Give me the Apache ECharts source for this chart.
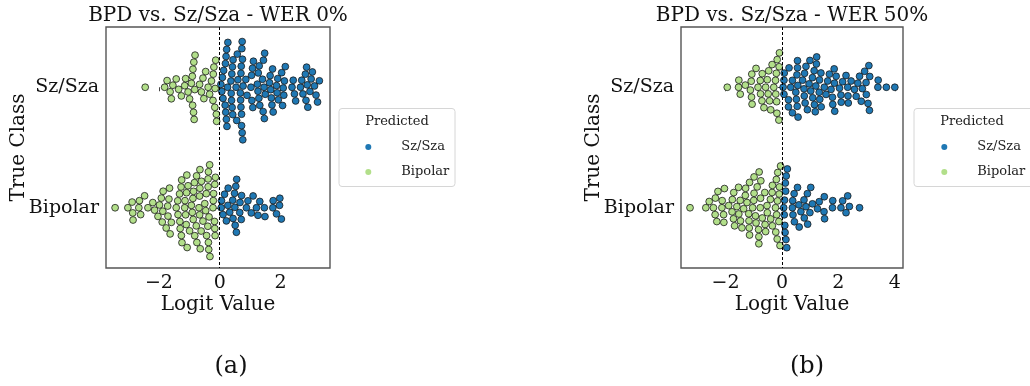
<!DOCTYPE html>
<html><head><meta charset="utf-8">
<script src="https://cdn.jsdelivr.net/npm/echarts@6.0.0/dist/echarts.min.js"></script>
<style>html,body{margin:0;padding:0;background:#fff}#c{width:1030px;height:386px}</style>
</head><body><div id="c"></div>
<script>
// ---------------- data ----------------
const categories = ['Sz/Sza', 'Bipolar'];          // true class rows (top -> bottom)
const predictedNames = ['Sz/Sza', 'Bipolar'];      // legend / hue (logit > 0 => Sz/Sza)
const panelTitles = ['BPD vs. Sz/Sza - WER 0%', 'BPD vs. Sz/Sza - WER 50%'];
const panelLabels = ['(a)', '(b)'];
const xTicksA = [-2, 0, 2];
const xTicksB = [-2, 0, 2, 4];

// WER 0% : logits of true Sz/Sza samples
const wer0Sz = [
  -2.45, -1.81, -1.73, -1.63, -1.59, -1.54, -1.43, -1.35, -1.26, -1.15, -1.12, -1.04, -0.99, -0.93, -0.90,
  -0.89, -0.88, -0.86, -0.85, -0.84, -0.82, -0.81, -0.66, -0.60, -0.55, -0.52, -0.46, -0.38, -0.33,
  -0.27, -0.22, -0.21, -0.19, -0.16, -0.15, -0.13, -0.11, -0.10,
  0.04, 0.07, 0.09, 0.11, 0.13, 0.18, 0.19, 0.20, 0.21, 0.22, 0.23, 0.24, 0.26, 0.27,
  0.37, 0.38, 0.39, 0.40, 0.41, 0.42, 0.43, 0.44, 0.54, 0.56, 0.58, 0.60,
  0.68, 0.69, 0.70, 0.70, 0.71, 0.72, 0.72, 0.73, 0.74, 0.74, 0.75, 0.76, 0.77, 0.86, 0.90,
  1.03, 1.05, 1.06, 1.08, 1.09, 1.11, 1.24, 1.26, 1.27, 1.29, 1.30, 1.32,
  1.41, 1.43, 1.44, 1.46, 1.47, 1.48, 1.50, 1.64, 1.66, 1.68, 1.70, 1.72, 1.74, 1.76,
  1.87, 1.89, 1.91, 1.93, 2.04, 2.07, 2.09, 2.11, 2.13, 2.16, 2.38, 2.42, 2.46, 2.50,
  2.66, 2.70, 2.74, 2.82, 2.84, 2.86, 2.88, 2.90, 2.97, 3.01, 3.05, 3.12, 3.17, 3.22, 3.28
];
// WER 0% : logits of true Bipolar samples
const wer0Bp = [
  -3.44, -3.02, -2.88, -2.86, -2.85, -2.66, -2.64, -2.60, -2.47, -2.36, -2.20, -2.14, -2.03, -1.98,
  -1.92, -1.89, -1.87, -1.86, -1.76, -1.71, -1.70, -1.67, -1.65, -1.63, -1.59,
  -1.43, -1.38, -1.37, -1.32, -1.31, -1.30, -1.27, -1.26, -1.25, -1.24,
  -1.15, -1.14, -1.12, -1.10, -1.09, -1.08, -1.07, -1.04, -0.99,
  -0.93, -0.90, -0.88, -0.87, -0.86, -0.83, -0.82, -0.77, -0.76, -0.75,
  -0.68, -0.66, -0.66, -0.65, -0.65, -0.64, -0.61, -0.60, -0.55, -0.49, -0.46, -0.44, -0.43,
  -0.39, -0.38, -0.38, -0.37, -0.37, -0.36, -0.35, -0.33, -0.32, -0.22, -0.21, -0.20,
  -0.17, -0.16, -0.16, -0.15, -0.14,
  0.05, 0.06, 0.11, 0.16, 0.22, 0.27, 0.28, 0.33, 0.43, 0.44, 0.49, 0.50, 0.51, 0.53, 0.55, 0.56,
  0.66, 0.67, 0.71, 0.72, 0.88, 0.93, 1.04, 1.10, 1.21, 1.26, 1.32, 1.47, 1.49, 1.75, 1.76, 1.87,
  1.97, 1.98, 2.03
];
// WER 50% : logits of true Sz/Sza samples
const wer50Sz = [
  -1.94, -1.54, -1.53, -1.48, -1.30, -1.12, -1.09, -1.08, -1.07, -1.06, -0.92, -0.85, -0.77, -0.76,
  -0.71, -0.70, -0.64, -0.58, -0.52, -0.49, -0.47, -0.44, -0.40, -0.35, -0.29, -0.23, -0.22,
  -0.20, -0.19, -0.18, -0.17, -0.11, -0.10, -0.09,
  0.04, 0.07, 0.07, 0.08, 0.23, 0.23, 0.25, 0.31, 0.37, 0.37, 0.49, 0.51,
  0.53, 0.54, 0.55, 0.55, 0.56, 0.57, 0.73, 0.78, 0.79, 0.80, 0.82, 0.85, 0.90, 0.96, 0.99, 1.02,
  1.08, 1.09, 1.14, 1.15, 1.18, 1.20, 1.22, 1.23, 1.32, 1.33, 1.34, 1.38, 1.39,
  1.50, 1.56, 1.62, 1.68, 1.74, 1.79, 1.80, 1.85, 1.86, 1.87, 1.92, 2.04, 2.09, 2.10, 2.15,
  2.27, 2.33, 2.34, 2.35, 2.45, 2.57, 2.63, 2.69, 2.75, 2.81, 2.85, 2.93, 2.98, 2.99,
  3.05, 3.08, 3.10, 3.11, 3.40, 3.41, 3.70, 4.00
];
// WER 50% : logits of true Bipolar samples
const wer50Bp = [
  -3.26, -2.70, -2.58, -2.43, -2.37, -2.36, -2.31, -2.27, -2.13, -2.12, -2.07, -2.06, -2.04, -1.89,
  -1.77, -1.76, -1.72, -1.71, -1.68, -1.60, -1.54, -1.53, -1.48, -1.47, -1.42, -1.36, -1.30, -1.29,
  -1.24, -1.18, -1.17, -1.16, -1.15, -1.15, -1.04, -1.00, -0.99, -0.99, -0.94, -0.92, -0.88,
  -0.83, -0.82, -0.82, -0.81, -0.77, -0.76, -0.75, -0.70, -0.61, -0.60, -0.58, -0.53, -0.52,
  -0.41, -0.40, -0.35, -0.34, -0.34, -0.23, -0.22, -0.20, -0.19, -0.17, -0.16, -0.15,
  -0.11, -0.10, -0.09, -0.07, -0.05,
  0.06, 0.08, 0.09, 0.10, 0.11, 0.12, 0.13, 0.14, 0.15, 0.17, 0.19, 0.37, 0.38, 0.39, 0.43, 0.44,
  0.55, 0.60, 0.61, 0.67, 0.78, 0.79, 0.85, 0.90, 0.91, 0.99, 1.02, 1.08, 1.26, 1.32,
  1.49, 1.50, 1.51, 1.79, 1.80, 2.09, 2.15, 2.27, 2.33, 2.39, 2.75
];

// ---------------- style ----------------
const BLUE = '#1f78b4', GREEN = '#b2df8a';
const SERIF = '"DejaVu Serif", serif';
const SYM = 6.8, SPACING = 7.1;
const panels = [
  { rows: [wer0Sz, wer0Bp], ticks: xTicksA, min: -3.74, max: 3.63, left: 106, width: 224,
    legendBox: [339, 108.5, 116, 78], legendLeft: 360.3, titleX: 218, labelX: 231 },
  { rows: [wer50Sz, wer50Bp], ticks: xTicksB, min: -3.58, max: 4.29, left: 681, width: 222,
    legendBox: [914, 108.5, 130, 78], legendLeft: 936.3, titleX: 792, labelX: 807 }
];
const GTOP = 27, GH = 241;

const chart = echarts.init(document.getElementById('c'), null, { renderer: 'canvas' });

const fmtMinus = v => String(v).replace('-', '\u2212');
const option = {
  animation: false,
  grid: panels.map(p => ({ left: p.left, top: GTOP, width: p.width, height: GH, show: true,
    borderColor: '#555', borderWidth: 1.4, backgroundColor: 'transparent', containLabel: false })),
  xAxis: panels.map((p, i) => ({
    type: 'value', gridIndex: i, min: p.min, max: p.max,
    axisLine: { show: false }, splitLine: { show: false },
    axisTick: { show: true, length: 4, customValues: p.ticks, lineStyle: { color: '#444', width: 1 } },
    axisLabel: { customValues: p.ticks, formatter: fmtMinus, fontFamily: SERIF, fontSize: 19, color: '#111', margin: 6 },
    name: 'Logit Value', nameLocation: 'middle', nameGap: 27, nameMoveOverlap: false,
    nameTextStyle: { fontFamily: SERIF, fontSize: 20, color: '#111' }
  })),
  yAxis: panels.map((p, i) => ({
    type: 'value', gridIndex: i, min: -0.5, max: 1.5, inverse: true,
    axisLine: { show: false }, splitLine: { show: false },
    axisTick: { show: true, length: 4, customValues: [0, 1], lineStyle: { color: '#444', width: 1 } },
    axisLabel: { customValues: [0, 1], formatter: v => categories[Math.round(v)], fontFamily: SERIF, fontSize: 19, color: '#111', margin: 7 },
    name: 'True Class', nameLocation: 'middle', nameGap: 77, nameRotate: 90, nameMoveOverlap: false,
    nameTextStyle: { fontFamily: SERIF, fontSize: 20, color: '#111' }
  })),
  legend: panels.map(p => ({
    orient: 'vertical', left: p.legendLeft, top: 135, itemWidth: 6, itemHeight: 6, itemGap: 11,
    icon: 'circle', data: predictedNames,
    itemStyle: { borderWidth: 0 },
    textStyle: { fontFamily: SERIF, fontSize: 13, color: '#222', lineHeight: 14, padding: [0, 0, 0, 25] }
  })),
  graphic: [],
  series: []
};
panels.forEach((p, i) => {
  const [bx, by, bw, bh] = p.legendBox;
  option.graphic.push(
    { type: 'rect', shape: { x: bx, y: by, width: bw, height: bh, r: 3 }, style: { fill: '#fff', stroke: '#d6d6d6', lineWidth: 1 }, z: -1 },
    { type: 'text', x: bx + 58, y: by + 13, style: { text: 'Predicted', fontFamily: SERIF, fontSize: 13, fill: '#222', align: 'center', verticalAlign: 'middle', textAlign: 'center', textVerticalAlign: 'middle' } },
    { type: 'text', x: p.titleX, y: 16, style: { text: panelTitles[i], fontFamily: SERIF, fontSize: 20, fill: '#111', align: 'center', verticalAlign: 'middle', textAlign: 'center', textVerticalAlign: 'middle' } },
    { type: 'text', x: p.labelX, y: 367, style: { text: panelLabels[i], fontFamily: SERIF, fontSize: 24, fill: '#111', align: 'center', verticalAlign: 'middle', textAlign: 'center', textVerticalAlign: 'middle' } }
  );
  option.series.push(
    { name: predictedNames[0], type: 'scatter', xAxisIndex: i, yAxisIndex: i, data: [], symbolSize: SYM,
      itemStyle: { color: BLUE, borderColor: '#1a1a1a', borderWidth: 0.8, opacity: 1 },
      markLine: { silent: true, symbol: ['none', 'none'], label: { show: false },
        lineStyle: { color: '#000', type: [3, 2], width: 1 }, data: [{ xAxis: 0 }] } },
    { name: predictedNames[1], type: 'scatter', xAxisIndex: i, yAxisIndex: i, data: [], symbolSize: SYM,
      itemStyle: { color: GREEN, borderColor: '#1a1a1a', borderWidth: 0.8, opacity: 1 } }
  );
});
chart.setOption(option);

// -------- beeswarm layout (seaborn-like), computed through the axis scales --------
function swarm(values, row, gi) {
  const c0 = chart.convertToPixel({ gridIndex: gi }, [0, row]);
  const c1 = chart.convertToPixel({ gridIndex: gi }, [0, row + 1]);
  const pxPerUnit = c1[1] - c0[1];
  const pts = values.map(v => ({ v, x: chart.convertToPixel({ gridIndex: gi }, [v, row])[0] }))
    .sort((a, b) => a.x - b.x);
  const placed = [];
  const D2 = SPACING * SPACING;
  for (const p of pts) {
    const nb = placed.filter(q => Math.abs(q.x - p.x) < SPACING);
    const cands = [0];
    nb.forEach(q => { const dx = p.x - q.x; const dy = Math.sqrt(Math.max(D2 - dx * dx, 0)); cands.push(q.y - dy, q.y + dy); });
    const order = cands.map((c, k) => [c, k]).sort((a, b) => (Math.abs(a[0]) - Math.abs(b[0])) || (a[1] - b[1]));
    let chosen = order[order.length - 1][0];
    for (const [c] of order) {
      if (nb.every(q => (q.x - p.x) ** 2 + (q.y - c) ** 2 >= D2 - 1e-6)) { chosen = c; break; }
    }
    placed.push({ x: p.x, y: chosen, v: p.v });
  }
  return placed.map(q => [q.v, row + q.y / pxPerUnit]);
}

const seriesData = [];
panels.forEach((p, i) => {
  const pos = [], neg = [];
  p.rows.forEach((vals, r) => {
    swarm(vals, r, i).forEach(pt => (pt[0] > 0 ? pos : neg).push(pt));
  });
  seriesData.push({ data: pos }, { data: neg });
});
chart.setOption({ series: seriesData });
</script></body></html>
